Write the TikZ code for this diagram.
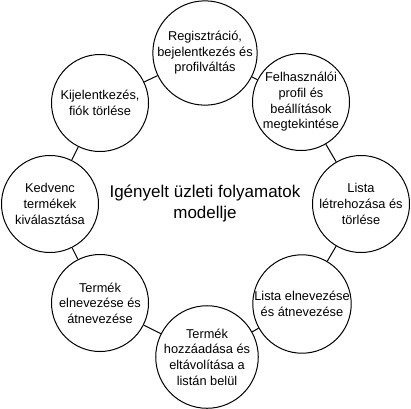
\documentclass[tikz,border=0pt]{standalone}
\usepackage{fontspec}
\setmainfont{Liberation Sans}
\begin{document}
\begin{tikzpicture}[x=1pt,y=-1pt,
	folyamat/.style={draw,circle,line width=1pt,minimum size=97pt,inner sep=0pt,align=center,font=\fontsize{12.8}{15.6}\selectfont},
	kapcsolat/.style={line width=1pt}]
		\useasboundingbox (0,0) rectangle (411,408);

		\node[folyamat] (reg) at (205,53) {Regisztráció,\\bejelentkezés és\\profilváltás};
		\node[folyamat] (profil) at (301,102) {Felhasználói\\profil és\\beállítások\\megtekintése};
		\node[folyamat] (ujlista) at (361,204) {Lista\\létrehozása és\\törlése};
		\node[folyamat] (listanev) at (302,304) {Lista elnevezése\\és átnevezése};
		\node[folyamat] (termekfel) at (207,357) {Termék\\hozzáadása és\\eltávolítása a\\listán belül};
		\node[folyamat] (termeknev) at (100,303) {Termék\\elnevezése és\\átnevezése};
		\node[folyamat] (kedvenc) at (50,204) {Kedvenc\\termékek\\kiválasztása};
		\node[folyamat] (kilep) at (100,103) {Kijelentkezés,\\fiók törlése};

		\node[align=center,font=\fontsize{17}{21}\selectfont] (cim) at (205,203) {Igényelt üzleti folyamatok\\modellje};

		\draw[kapcsolat] (reg) -- (profil);
		\draw[kapcsolat] (profil) -- (ujlista);
		\draw[kapcsolat] (ujlista) -- (listanev);
		\draw[kapcsolat] (listanev) -- (termekfel);
		\draw[kapcsolat] (termekfel) -- (termeknev);
		\draw[kapcsolat] (termeknev) -- (kedvenc);
		\draw[kapcsolat] (kedvenc) -- (kilep);
		\draw[kapcsolat] (kilep) -- (reg);
	\end{tikzpicture}
\end{document}
